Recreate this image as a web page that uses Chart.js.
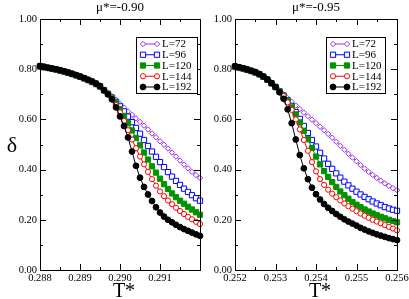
<!DOCTYPE html>
<html><head><meta charset="utf-8">
<script src="https://cdn.jsdelivr.net/npm/chart.js@4.4.0/dist/chart.umd.min.js"></script>
<style>
html,body{margin:0;padding:0;background:#fff;overflow:hidden;}
#wrap{position:relative;width:409px;height:299px;}
canvas{position:absolute;top:0;}
</style></head><body>
<div id="wrap">
<canvas id="c1" width="205" height="299" style="left:0px"></canvas>
<canvas id="c2" width="204" height="299" style="left:205px"></canvas>
</div>
<script>
// ---------- data ----------
const seriesLabels = ['L=72', 'L=96', 'L=120', 'L=144', 'L=192'];
const panelTitles = ['\u03bc*=-0.90', '\u03bc*=-0.95'];

const tLeft = [0.2880,0.2881,0.2882,0.2883,0.2884,0.2885,0.2886,0.2887,0.2888,0.2889,
               0.2890,0.2891,0.2892,0.2893,0.2894,0.2895,0.2896,0.2897,0.2898,0.2899,
               0.2900,0.2901,0.2902,0.2903,0.2904,0.2905,0.2906,0.2907,0.2908,0.2909,
               0.2910,0.2911,0.2912,0.2913,0.2914,0.2915,0.2916,0.2917,0.2918,0.2919,0.2920];
const left72  = [0.809,0.806,0.803,0.800,0.796,0.792,0.788,0.784,0.779,0.774,
                 0.768,0.762,0.755,0.747,0.738,0.729,0.718,0.705,0.692,0.678,
                 0.662,0.647,0.632,0.618,0.604,0.590,0.575,0.560,0.544,0.529,
                 0.513,0.499,0.484,0.468,0.452,0.436,0.420,0.405,0.391,0.378,0.367];
const left96  = [0.811,0.808,0.805,0.802,0.799,0.795,0.791,0.786,0.781,0.776,
                 0.770,0.764,0.757,0.750,0.741,0.731,0.717,0.702,0.687,0.670,
                 0.652,0.632,0.611,0.589,0.566,0.543,0.518,0.494,0.472,0.451,
                 0.430,0.410,0.390,0.372,0.355,0.339,0.324,0.311,0.298,0.286,0.276];
const left120 = [0.812,0.809,0.805,0.802,0.799,0.795,0.791,0.786,0.781,0.776,
                 0.770,0.764,0.757,0.750,0.742,0.732,0.716,0.701,0.684,0.665,
                 0.641,0.614,0.585,0.556,0.526,0.497,0.468,0.440,0.413,0.388,
                 0.364,0.342,0.323,0.305,0.290,0.276,0.264,0.252,0.241,0.230,0.220];
const left144 = [0.812,0.809,0.806,0.803,0.799,0.795,0.791,0.787,0.782,0.776,
                 0.770,0.764,0.757,0.750,0.742,0.732,0.715,0.700,0.680,0.657,
                 0.628,0.594,0.557,0.520,0.485,0.452,0.421,0.391,0.362,0.336,
                 0.313,0.294,0.277,0.262,0.248,0.235,0.223,0.212,0.202,0.192,0.183];
const left192 = [0.813,0.810,0.806,0.803,0.800,0.796,0.792,0.787,0.782,0.777,
                 0.771,0.765,0.758,0.751,0.743,0.733,0.716,0.700,0.680,0.648,
                 0.612,0.574,0.528,0.472,0.415,0.368,0.331,0.301,0.275,0.250,
                 0.229,0.213,0.200,0.190,0.180,0.171,0.163,0.156,0.149,0.142,0.136];

const tRight = [0.2520,0.2521,0.2522,0.2523,0.2524,0.2525,0.2526,0.2527,0.2528,0.2529,
                0.2530,0.2531,0.2532,0.2533,0.2534,0.2535,0.2536,0.2537,0.2538,0.2539,
                0.2540,0.2541,0.2542,0.2543,0.2544,0.2545,0.2546,0.2547,0.2548,0.2549,
                0.2550,0.2551,0.2552,0.2553,0.2554,0.2555,0.2556,0.2557,0.2558,0.2559,0.2560];
const right72  = [0.806,0.803,0.799,0.795,0.790,0.784,0.777,0.768,0.757,0.745,
                  0.731,0.716,0.700,0.685,0.670,0.655,0.641,0.627,0.613,0.599,
                  0.585,0.571,0.557,0.542,0.527,0.511,0.495,0.479,0.463,0.448,
                  0.433,0.418,0.404,0.391,0.379,0.367,0.356,0.345,0.335,0.326,0.318];
const right96  = [0.810,0.807,0.803,0.798,0.793,0.787,0.780,0.770,0.758,0.744,
                  0.729,0.712,0.695,0.676,0.654,0.629,0.602,0.574,0.546,0.518,
                  0.492,0.467,0.444,0.423,0.403,0.385,0.368,0.352,0.337,0.324,
                  0.312,0.301,0.291,0.282,0.273,0.265,0.258,0.251,0.245,0.240,0.236];
const right120 = [0.811,0.807,0.803,0.798,0.793,0.788,0.780,0.770,0.758,0.744,
                  0.729,0.711,0.694,0.673,0.648,0.620,0.588,0.555,0.521,0.486,
                  0.452,0.421,0.394,0.371,0.350,0.331,0.313,0.298,0.284,0.271,
                  0.260,0.250,0.241,0.233,0.225,0.218,0.212,0.206,0.200,0.195,0.190];
const right144 = [0.811,0.808,0.804,0.799,0.794,0.788,0.781,0.771,0.759,0.745,
                  0.729,0.710,0.693,0.668,0.638,0.600,0.560,0.518,0.475,0.430,
                  0.393,0.362,0.339,0.320,0.304,0.290,0.277,0.265,0.254,0.244,
                  0.234,0.225,0.216,0.208,0.200,0.193,0.186,0.179,0.172,0.165,0.158];
const right192 = [0.812,0.808,0.804,0.799,0.794,0.789,0.781,0.771,0.759,0.745,
                  0.729,0.708,0.682,0.640,0.585,0.520,0.458,0.405,0.362,0.328,
                  0.302,0.281,0.263,0.248,0.235,0.223,0.212,0.202,0.193,0.185,
                  0.177,0.168,0.161,0.154,0.148,0.142,0.137,0.132,0.127,0.123,0.119];

const yTickLabels = ['0.00','0.20','0.40','0.60','0.80','1.00'];

// ---------- styles ----------
const FONT = '"Liberation Serif", "Times New Roman", serif';
const styles = [
  {color:'#9b30e8', fill:'#ffffff', shape:'rectRot', r:2.7},
  {color:'#0000ff', fill:'#ffffff', shape:'rect',    r:3.7},
  {color:'#009400', fill:'#009400', shape:'rect',    r:3.7},
  {color:'#ff0000', fill:'#ffffff', shape:'circle',  r:2.6},
  {color:'#000000', fill:'#000000', shape:'circle',  r:2.9}
];

function mark(ctx, shape, r, x, y, fill, stroke) {
  ctx.beginPath();
  if (shape === 'circle') ctx.arc(x, y, r, 0, Math.PI * 2);
  else if (shape === 'rect') { const s = r * Math.SQRT1_2; ctx.rect(x - s, y - s, 2 * s, 2 * s); }
  else { ctx.moveTo(x - r, y); ctx.lineTo(x, y - r); ctx.lineTo(x + r, y); ctx.lineTo(x, y + r); ctx.closePath(); }
  ctx.fillStyle = fill; ctx.fill();
  ctx.strokeStyle = stroke; ctx.lineWidth = 1; ctx.stroke();
}

const panelPlugin = {
  id: 'panel',
  afterDatasetsDraw(chart, args, o) {
    const ctx = chart.ctx, a = chart.chartArea, xs = chart.scales.x, ys = chart.scales.y;
    ctx.save();
    ctx.strokeStyle = '#000'; ctx.lineWidth = 1;
    ctx.beginPath();
    for (let k = 0; k <= 8; k++) {
      const v = o.xmin + k * 0.0005;
      const px = Math.round(xs.getPixelForValue(v)) + 0.5;
      const len = (k % 2 === 0) ? 6 : 3;
      ctx.moveTo(px, a.bottom); ctx.lineTo(px, a.bottom - len);
      ctx.moveTo(px, a.top); ctx.lineTo(px, a.top + len);
    }
    for (let k = 0; k <= 10; k++) {
      const v = k * 0.1;
      const py = Math.round(ys.getPixelForValue(v)) + 0.5;
      const len = (k % 2 === 0) ? 6 : 3;
      ctx.moveTo(a.left, py); ctx.lineTo(a.left + len, py);
      ctx.moveTo(a.right, py); ctx.lineTo(a.right - len, py);
    }
    ctx.stroke();
    ctx.strokeRect(Math.round(a.left) + 0.5, Math.round(a.top) + 0.5,
                   Math.round(a.right - a.left), Math.round(a.bottom - a.top));
    ctx.restore();
  },
  afterDraw(chart, args, o) {
    const ctx = chart.ctx, a = chart.chartArea;
    ctx.save();
    const b = o.legend;
    ctx.fillStyle = '#fff';
    ctx.fillRect(b.x, b.y, b.w, b.h);
    ctx.strokeStyle = '#000'; ctx.lineWidth = 1;
    ctx.strokeRect(b.x + 0.5, b.y + 0.5, b.w, b.h);
    chart.data.datasets.forEach((ds, i) => {
      const st = styles[i];
      const y = b.y + 7 + i * 10.75;
      ctx.strokeStyle = st.color; ctx.lineWidth = 1;
      ctx.beginPath(); ctx.moveTo(b.x + 7, y); ctx.lineTo(b.x + 21, y); ctx.stroke();
      mark(ctx, st.shape, st.r, b.x + 7, y, st.fill, st.color);
      mark(ctx, st.shape, st.r, b.x + 21, y, st.fill, st.color);
      ctx.fillStyle = '#000';
      ctx.font = '11px ' + FONT;
      ctx.textAlign = 'left'; ctx.textBaseline = 'middle';
      ctx.fillText(ds.label, b.x + 26, y + 0.5);
    });
    ctx.fillStyle = '#000';
    ctx.font = '13px ' + FONT;
    ctx.textAlign = 'center'; ctx.textBaseline = 'middle';
    ctx.fillText(o.title, (a.left + a.right) / 2, 8);
    ctx.font = '20px ' + FONT;
    ctx.textBaseline = 'alphabetic';
    ctx.fillText('T*', (a.left + a.right) / 2 + 4, 297);
    if (o.yTitle) {
      ctx.font = '22px ' + FONT;
      ctx.textBaseline = 'middle';
      ctx.fillText(o.yTitle, 12, 146);
    }
    ctx.restore();
  }
};

function makeChart(id, t, valuesList, opts) {
  const datasets = valuesList.map((vals, i) => ({
    label: seriesLabels[i],
    data: t.map((tv, j) => ({x: tv, y: vals[j]})),
    borderColor: styles[i].color,
    backgroundColor: styles[i].fill,
    pointBackgroundColor: styles[i].fill,
    pointBorderColor: styles[i].color,
    pointStyle: styles[i].shape,
    pointRadius: styles[i].r,
    pointBorderWidth: 1,
    borderWidth: 1,
    tension: 0,
    clip: false,
    order: 4 - i
  }));
  return new Chart(document.getElementById(id), {
    type: 'line',
    data: {datasets},
    plugins: [panelPlugin],
    options: {
      responsive: false,
      animation: false,
      events: [],
      layout: {padding: {left: 0, right: opts.padRight, top: 19, bottom: 0}},
      plugins: {
        legend: {display: false},
        tooltip: {enabled: false},
        panel: {xmin: opts.xmin, title: opts.title, yTitle: opts.yTitle, legend: opts.legend}
      },
      scales: {
        x: {
          type: 'linear', min: opts.xmin, max: opts.xmax,
          grid: {display: false, drawTicks: false},
          border: {display: false},
          afterFit: s => { s.height = 29; s.paddingLeft = 0; s.paddingRight = 0; },
          ticks: {
            stepSize: 0.001, autoSkip: false, maxRotation: 0, padding: 2,
            color: '#000', font: {family: FONT, size: 10.5},
            callback: v => (opts.hideLast && Math.abs(v - opts.xmax) < 1e-7) ? '' : Number(v).toFixed(3)
          }
        },
        y: {
          min: 0, max: 1,
          grid: {display: false, drawTicks: false},
          border: {display: false},
          afterFit: s => { s.width = opts.yWidth; s.paddingTop = 0; s.paddingBottom = 0; },
          ticks: {
            stepSize: 0.2, padding: 3, color: '#000', font: {family: FONT, size: 10.5},
            callback: v => yTickLabels[Math.round(v * 5)]
          }
        }
      }
    }
  });
}

makeChart('c1', tLeft, [left72, left96, left120, left144, left192], {
  xmin: 0.288, xmax: 0.292, hideLast: true, padRight: 2, yWidth: 40,
  title: panelTitles[0], yTitle: '\u03b4', legend: {x: 136, y: 37, w: 61, h: 56}
});
makeChart('c2', tRight, [right72, right96, right120, right144, right192], {
  xmin: 0.252, xmax: 0.256, hideLast: false, padRight: 12, yWidth: 30,
  title: panelTitles[1], yTitle: null, legend: {x: 121, y: 37, w: 59, h: 56}
});
</script>
</body></html>
